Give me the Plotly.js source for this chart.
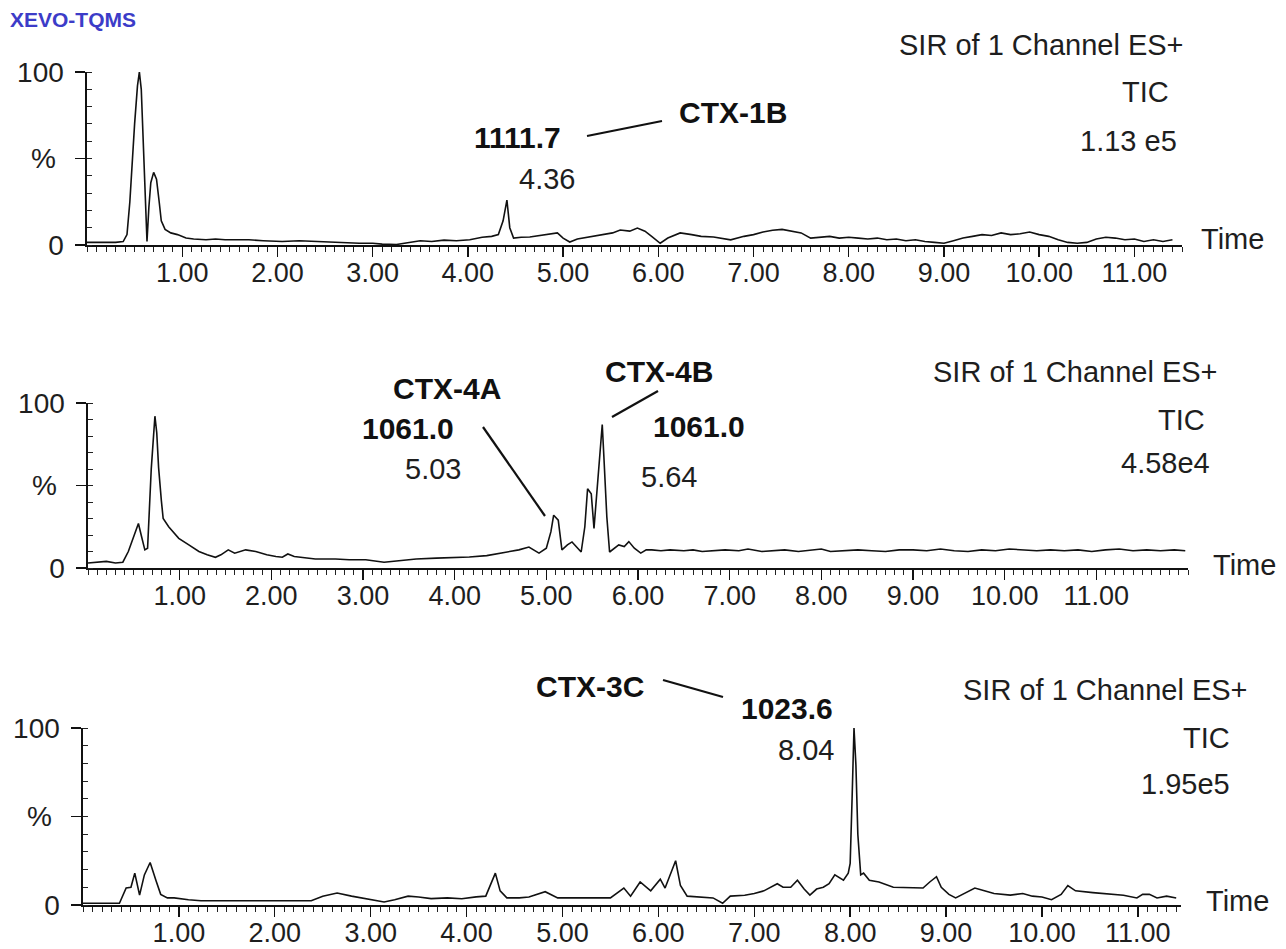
<!DOCTYPE html>
<html>
<head>
<meta charset="utf-8">
<script src="https://cdn.plot.ly/plotly-3.0.1.min.js"></script>
<style>
  html, body { margin: 0; padding: 0; background: #ffffff; }
  #chart { width: 1286px; height: 949px; }
</style>
</head>
<body>
<div id="chart"></div>
<script>
// ---------------- DATA ----------------
// Panel 1: CTX-1B (SIR 1111.7), TIC 1.13e5
const time1 = [0.00, 0.30, 0.38, 0.42, 0.45, 0.47, 0.50, 0.53, 0.55, 0.57, 0.59, 0.61, 0.63, 0.65, 0.67, 0.70, 0.73, 0.76, 0.78, 0.82, 0.88, 0.95, 1.04, 1.12, 1.25, 1.35, 1.45, 1.55, 1.70, 1.85, 2.05, 2.23, 2.40, 2.55, 2.70, 2.86, 3.00, 3.10, 3.25, 3.39, 3.50, 3.62, 3.75, 3.88, 4.02, 4.15, 4.25, 4.32, 4.37, 4.41, 4.44, 4.48, 4.56, 4.65, 4.75, 4.85, 4.94, 5.00, 5.07, 5.15, 5.25, 5.36, 5.45, 5.52, 5.60, 5.70, 5.78, 5.86, 5.93, 6.02, 6.10, 6.23, 6.35, 6.45, 6.58, 6.76, 6.90, 7.00, 7.10, 7.20, 7.30, 7.40, 7.50, 7.60, 7.70, 7.80, 7.90, 8.00, 8.10, 8.20, 8.30, 8.40, 8.50, 8.60, 8.70, 8.80, 8.90, 9.00, 9.10, 9.20, 9.30, 9.40, 9.50, 9.60, 9.70, 9.80, 9.90, 10.00, 10.10, 10.20, 10.30, 10.40, 10.50, 10.60, 10.70, 10.80, 10.90, 11.00, 11.10, 11.20, 11.30, 11.40];
const int1 = [1.5, 1.5, 2, 6, 25, 45, 70, 92, 100, 90, 58, 25, 2, 22, 36, 42, 38, 24, 14, 9, 7, 6, 4, 3.5, 3, 3.5, 3, 3, 3, 2.5, 2, 2.5, 2, 1.7, 1.5, 1, 1, 0.5, 0.3, 1.7, 2.5, 2, 2.8, 2.5, 3, 4.5, 5, 6, 14, 26, 10, 4, 4.5, 4.6, 5.5, 6, 7, 4, 1.7, 3.5, 4.5, 5.8, 6.5, 7, 8.7, 8, 9.8, 8, 5, 1, 4, 7, 6, 5, 4.6, 3, 5, 6, 7.5, 8.5, 9, 8, 7, 4, 4.5, 5, 4, 4.5, 4, 3.5, 4, 3, 3.5, 2.5, 3, 2, 1.5, 1, 2.5, 4, 5, 6, 5.5, 7, 6, 6.5, 7.5, 6, 5, 3, 1.5, 1, 1.5, 3.5, 4.5, 4, 3, 3.5, 2, 3, 2, 3];

// Panel 2: CTX-4A / CTX-4B (SIR 1061.0), TIC 4.58e4
const time2 = [0.00, 0.10, 0.20, 0.30, 0.38, 0.44, 0.48, 0.52, 0.55, 0.58, 0.62, 0.65, 0.67, 0.69, 0.71, 0.73, 0.75, 0.77, 0.80, 0.82, 0.88, 0.99, 1.10, 1.21, 1.30, 1.39, 1.45, 1.53, 1.60, 1.72, 1.83, 1.95, 2.05, 2.12, 2.18, 2.25, 2.48, 2.70, 2.85, 3.03, 3.23, 3.40, 3.58, 3.80, 4.00, 4.16, 4.35, 4.56, 4.70, 4.81, 4.92, 5.00, 5.05, 5.08, 5.13, 5.17, 5.23, 5.28, 5.34, 5.38, 5.42, 5.45, 5.49, 5.52, 5.55, 5.58, 5.61, 5.63, 5.66, 5.69, 5.74, 5.79, 5.85, 5.90, 5.96, 6.03, 6.09, 6.15, 6.25, 6.35, 6.50, 6.60, 6.70, 6.80, 6.95, 7.10, 7.20, 7.35, 7.50, 7.60, 7.75, 7.90, 8.00, 8.10, 8.25, 8.40, 8.55, 8.70, 8.85, 9.00, 9.15, 9.30, 9.45, 9.60, 9.75, 9.90, 10.05, 10.20, 10.35, 10.50, 10.65, 10.80, 10.95, 11.10, 11.25, 11.40, 11.55, 11.70, 11.85, 11.97];
const int2 = [3, 3.5, 4, 3, 3.5, 10, 16, 22, 27, 20, 11, 12, 40, 60, 76, 92, 82, 61, 41, 30, 25, 18, 14, 10, 8, 6.5, 8, 11, 9, 11, 10, 8, 7, 6.5, 8.5, 7, 5.5, 5.5, 5, 5, 3.5, 4.5, 5.5, 6, 6.3, 6.7, 7.5, 9.7, 11, 12.7, 9, 12, 22, 32, 29, 11, 14, 15.8, 12, 9.7, 25, 48, 45, 24, 45, 67, 87, 65, 31, 9.7, 12, 14, 13, 16, 12, 9, 11, 11, 10.5, 11, 10.5, 11, 10, 10.5, 11, 10.5, 11.5, 10, 10.5, 11, 10, 11, 11.5, 10, 10.5, 11, 10.5, 10, 11, 11, 10.5, 11.5, 10.5, 10, 11, 10.5, 11.5, 11, 10.5, 11, 10.5, 11, 10, 11, 11.5, 10.5, 11, 10.5, 11, 10.5];

// Panel 3: CTX-3C (SIR 1023.6), TIC 1.95e5
const time3 = [0.00, 0.38, 0.45, 0.50, 0.54, 0.59, 0.64, 0.70, 0.76, 0.81, 0.88, 0.95, 1.10, 1.23, 1.50, 1.80, 2.10, 2.38, 2.50, 2.65, 2.80, 2.93, 3.14, 3.25, 3.39, 3.50, 3.63, 3.80, 3.95, 4.10, 4.20, 4.30, 4.35, 4.42, 4.55, 4.65, 4.82, 4.95, 5.10, 5.30, 5.50, 5.64, 5.71, 5.81, 5.92, 6.02, 6.07, 6.18, 6.23, 6.30, 6.45, 6.57, 6.67, 6.75, 6.90, 7.00, 7.10, 7.24, 7.30, 7.38, 7.45, 7.52, 7.58, 7.65, 7.72, 7.78, 7.84, 7.93, 7.98, 8.00, 8.02, 8.04, 8.06, 8.08, 8.11, 8.14, 8.20, 8.30, 8.45, 8.60, 8.76, 8.83, 8.90, 8.95, 9.03, 9.10, 9.20, 9.30, 9.40, 9.50, 9.67, 9.80, 9.90, 10.00, 10.10, 10.20, 10.27, 10.35, 10.53, 10.70, 10.85, 10.99, 11.05, 11.12, 11.20, 11.30, 11.40];
const int3 = [1, 1, 9.6, 10, 18, 5.6, 17, 24, 14, 6, 4, 4, 3, 2.4, 2.4, 2.4, 2.4, 2.4, 5, 6.8, 5, 3.6, 1.7, 3, 5, 4.5, 3.6, 4, 3.5, 4.6, 5, 18, 8, 4, 4, 4.5, 7.5, 4, 4, 4, 4, 9.6, 5, 13, 8, 14.6, 9.6, 25, 11, 5, 4.5, 4, 1, 5, 5.5, 6.5, 8, 12, 10, 10, 14, 9, 5.6, 9, 10, 12, 17, 14, 18, 23.5, 60, 100, 79, 40, 17, 18, 14, 13, 10, 10, 9.6, 13, 16, 10, 6, 4, 7, 9.6, 8, 6.5, 5.6, 6.5, 5, 4.5, 3, 6, 11, 8, 7, 6, 5.5, 4, 6, 6, 4, 5, 4];

const tickVals = [1, 2, 3, 4, 5, 6, 7, 8, 9, 10, 11];
const tickText = ["1.00", "2.00", "3.00", "4.00", "5.00", "6.00", "7.00", "8.00", "9.00", "10.00", "11.00"];
const yTickVals = [0, 50, 100];
const yTickText = ["0", "%\u00A0", "100"];

// ---------------- LAYOUT ----------------
const W = 1286, H = 949;
const fx = p => p / W;
const fy = p => 1 - p / H;
const FONT = "Liberation Sans, Arial, sans-serif";
const TXT = "#1e1e1e";

// panel geometry in pixels: [left, right, top(100%), bottom(0%)]
const panels = [
  { l: 87, r: 1182, t: 72, b: 245, range: [0, 11.5] },
  { l: 88, r: 1188, t: 403, b: 568, range: [0, 12.0] },
  { l: 83, r: 1181, t: 728, b: 905, range: [0, 11.45] }
];

const traces = [
  { x: time1, y: int1, xaxis: "x", yaxis: "y" },
  { x: time2, y: int2, xaxis: "x2", yaxis: "y2" },
  { x: time3, y: int3, xaxis: "x3", yaxis: "y3" }
].map(t => Object.assign(t, {
  type: "scatter", mode: "lines",
  line: { color: "#111111", width: 1.6, shape: "linear" },
  hoverinfo: "skip", showlegend: false, cliponaxis: false
}));

const layout = {
  width: W, height: H,
  margin: { l: 0, r: 0, t: 0, b: 0 },
  paper_bgcolor: "#ffffff", plot_bgcolor: "#ffffff",
  font: { family: FONT, size: 27, color: TXT },
  showlegend: false,
  annotations: [], shapes: []
};

panels.forEach((p, i) => {
  const s = i === 0 ? "" : String(i + 1);
  layout["xaxis" + s] = {
    domain: [fx(p.l), fx(p.r)], range: p.range, anchor: "y" + s,
    showline: true, linecolor: "#111", linewidth: 1.6,
    showgrid: false, zeroline: false,
    tickmode: "array", tickvals: tickVals, ticktext: tickText,
    ticks: "outside", ticklen: 10, tickwidth: 1.4, tickcolor: "#111",
    ticklabelstandoff: -7,
    tickfont: { family: FONT, size: 27, color: TXT },
    minor: { tickmode: "linear", tick0: 0, dtick: 0.1, ticks: "outside", ticklen: 5, tickwidth: 1, tickcolor: "#222", showgrid: false },
    fixedrange: true
  };
  layout["yaxis" + s] = {
    domain: [fy(p.b), fy(p.t)], range: [0, 100], anchor: "x" + s,
    showline: true, linecolor: "#111", linewidth: 1.6,
    showgrid: false, zeroline: false,
    tickmode: "array", tickvals: yTickVals, ticktext: yTickText,
    ticks: "outside", ticklen: 10, tickwidth: 1.4, tickcolor: "#111",
    ticklabelstandoff: 6,
    tickfont: { family: FONT, size: 28, color: TXT },
    minor: { tickmode: "linear", tick0: 0, dtick: 10, ticks: "inside", ticklen: 5, tickwidth: 1, tickcolor: "#222", showgrid: false },
    fixedrange: true
  };
});

function txt(text, x, y, opts) {
  layout.annotations.push(Object.assign({
    text: text, x: fx(x), y: fy(y), xref: "paper", yref: "paper",
    showarrow: false, xanchor: "center", yanchor: "middle",
    font: { family: FONT, size: 29, color: TXT }
  }, opts || {}));
}
function seg(x0, y0, x1, y1) {
  layout.shapes.push({ type: "line", xref: "paper", yref: "paper",
    x0: fx(x0), y0: fy(y0), x1: fx(x1), y1: fy(y1),
    line: { color: "#111", width: 2.2 } });
}
const bold = { family: FONT, size: 30, color: "#111", weight: "bold" };

// header
txt("<b>XEVO-TQMS</b>", 8, 20, { xanchor: "left", font: { family: FONT, size: 21, color: "#3c3cc8" } });

// panel 1 labels
txt("SIR of 1 Channel ES+", 1186, 45, { xanchor: "right" });
txt("TIC", 1171, 92, { xanchor: "right" });
txt("1.13 e5", 1179, 141, { xanchor: "right" });
txt("Time", 1199, 239, { xanchor: "left" });
txt("<b>1111.7</b>", 517, 137, { font: bold });
txt("4.36", 547, 179);
txt("<b>CTX-1B</b>", 733, 113, { font: bold });
seg(587, 136, 662, 121);

// panel 2 labels
txt("SIR of 1 Channel ES+", 1220, 372, { xanchor: "right" });
txt("TIC", 1207, 420, { xanchor: "right" });
txt("4.58e4", 1212, 463, { xanchor: "right" });
txt("Time", 1211, 565, { xanchor: "left" });
txt("<b>CTX-4A</b>", 447, 388, { font: bold });
txt("<b>1061.0</b>", 408, 428, { font: bold });
txt("5.03", 433, 469);
seg(483, 427, 545, 516);
txt("<b>CTX-4B</b>", 659, 371, { font: bold });
seg(612, 417, 658, 391);
txt("<b>1061.0</b>", 699, 426, { font: bold });
txt("5.64", 669, 477);

// panel 3 labels
txt("SIR of 1 Channel ES+", 1250, 690, { xanchor: "right" });
txt("TIC", 1232, 738, { xanchor: "right" });
txt("1.95e5", 1232, 784, { xanchor: "right" });
txt("Time", 1204, 901, { xanchor: "left" });
txt("<b>CTX-3C</b>", 590, 686, { font: bold });
seg(663, 680, 723, 697);
txt("<b>1023.6</b>", 787, 708, { font: bold });
txt("8.04", 806, 750);

Plotly.newPlot("chart", traces, layout, { displayModeBar: false, staticPlot: true });
</script>
</body>
</html>
